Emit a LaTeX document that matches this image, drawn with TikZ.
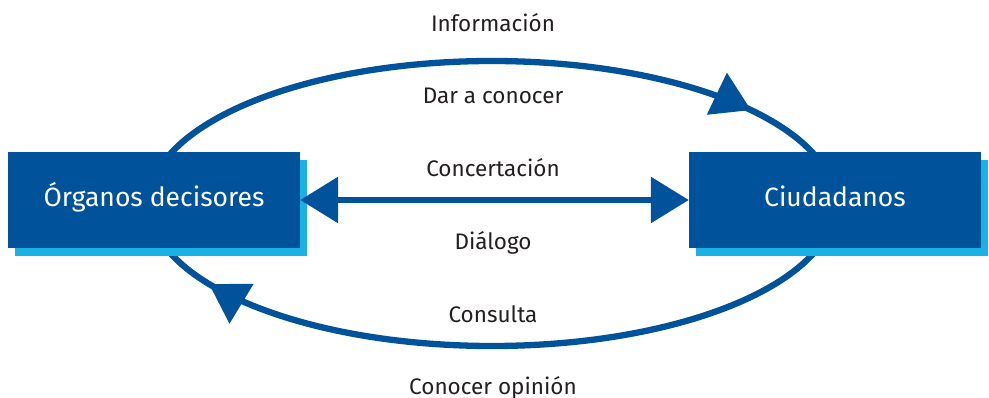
\documentclass[tikz,border=0pt]{standalone}
\usepackage{fontspec}
\setmainfont{Fira Sans}
\usepackage{xcolor}
\usetikzlibrary{arrows.meta, decorations.markings, shadows, positioning}

\definecolor{azul}{RGB}{0,82,155}
\definecolor{celeste}{RGB}{26,178,228}
\definecolor{gris}{RGB}{35,31,32}

\tikzset{
    caja/.style={fill=azul, text=white, minimum width=292pt, minimum height=96pt,
        inner sep=0pt, text height=12.5pt, text depth=0pt,
        font=\fontsize{26.5}{32}\selectfont,
        copy shadow={shadow xshift=7pt, shadow yshift=-8pt, fill=celeste, draw=none}},
    etiqueta/.style={text=gris, font=\fontsize{22.5}{27}\selectfont,
        anchor=base, inner sep=0pt},
    flecha/.style={azul, line width=6.3pt},
    punta/.tip={Triangle[length=38pt, width=45pt]}
}

\begin{document}
\begin{tikzpicture}[x=1pt, y=-1pt]
    \useasboundingbox (0,0) rectangle (989,398);

    % Ciclo exterior
    \draw[flecha, postaction={decorate}, decoration={markings,
        mark=at position 0.434 with {\arrow{punta}},
        mark=at position 0.917 with {\arrow{punta}}}]
        (492,203.5) ellipse [x radius=343, y radius=142.5];

    % Cajas
    \node[caja] (organos) at (154,200) {Órganos decisores};
    \node[caja] (ciudadanos) at (835,200) {Ciudadanos};

    % Flecha doble
    \draw[flecha, punta-punta] (organos) -- (ciudadanos);

    % Etiquetas
    \node[etiqueta] (informacion) at (493,32) {Información};
    \node[etiqueta] (dar) at (493,104) {Dar a conocer};
    \node[etiqueta] (concertacion) at (493,177) {Concertación};
    \node[etiqueta] (dialogo) at (493,250) {Diálogo};
    \node[etiqueta] (consulta) at (493,323) {Consulta};
    \node[etiqueta] (opinion) at (493,395) {Conocer opinión};
\end{tikzpicture}
\end{document}
